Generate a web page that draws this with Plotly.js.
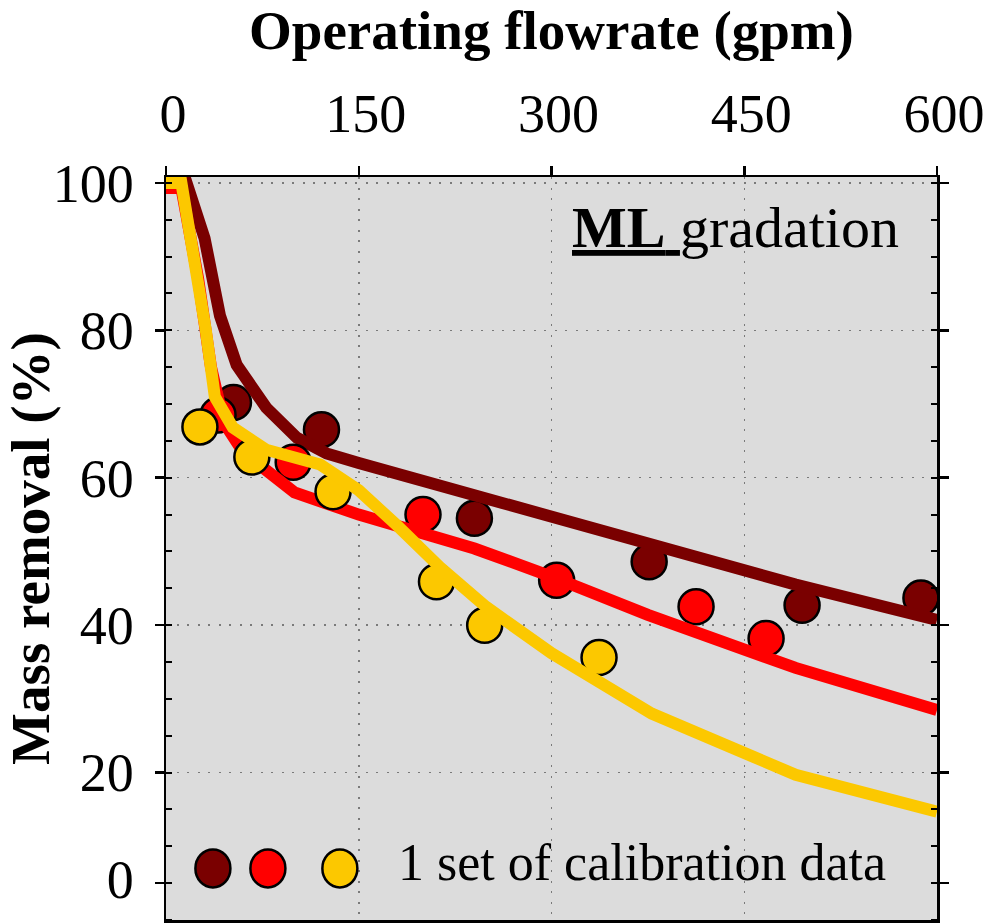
<!DOCTYPE html>
<html>
<head>
<meta charset="utf-8">
<script src="https://cdn.plot.ly/plotly-3.0.1.min.js"></script>
<style>
  html, body { margin: 0; padding: 0; background: #ffffff; }
  #chart { width: 989px; height: 923px; }
</style>
</head>
<body>
<div id="chart"></div>
<script>
// ---- Data ----
// Model curves
const darkLineX = [0, 16, 30, 42, 55, 78, 102, 125, 150, 380, 490, 600];
const darkLineY = [100, 100, 92.5, 82, 75.3, 69.5, 65.4, 63.3, 62, 51, 45.5, 40.7];

const redLineX = [0, 12, 25, 35, 45, 60, 100, 150, 240, 300, 375, 490, 600];
const redLineY = [99.3, 99.3, 87, 75, 67.5, 63.5, 58, 55, 50.4, 46.6, 41.4, 34.2, 28.5];

const yelLineX = [0, 12, 31, 38, 52, 78, 120, 150, 180, 213, 249, 300, 378, 490, 600];
const yelLineY = [100, 100, 80, 71, 66.8, 63.8, 61.8, 58.3, 53.5, 47.9, 42.5, 36.2, 28, 19.7, 14.7];

// Calibration data points
const darkPtsX = [52.5, 121, 240, 376, 495, 587.5];
const darkPtsY = [70.2, 66.5, 54.5, 48.6, 42.7, 43.7];

const redPtsX = [40.5, 99, 200, 304, 412.5, 467];
const redPtsY = [68.5, 62.1, 55, 46.1, 42.5, 38.2];

const yelPtsX = [26.4, 66.8, 130, 210.5, 248, 337];
const yelPtsY = [66.9, 62.8, 58.1, 45.9, 40, 35.6];

// Axis ticks
const xTickVals = [0, 150, 300, 450, 600];
const yTickVals = [20, 40, 60, 80, 100];
const yZeroTickVal = [5];
const yZeroTickText = ['0'];

// Texts
const xTitle = '<b>Operating flowrate (gpm)</b>';
const yTitle = '<b>Mass removal (%)</b>';
const gradationText = '<u><b>ML</b> </u>gradation';
const calibText = '1 set of calibration data';

// ---- Styles ----
const DARK = '#7a0000';
const RED = '#ff0000';
const YEL = '#fcc800';
const FONT = 'Liberation Serif';
const LW = 12;
const MS = 35;

function pts(x, y, color) {
  return {
    x: x, y: y, type: 'scatter', mode: 'markers', showlegend: false,
    marker: { size: MS, color: color, line: { color: '#000', width: 2.5 } },
    hoverinfo: 'x+y'
  };
}
function line(x, y, color) {
  return {
    x: x, y: y, type: 'scatter', mode: 'lines', showlegend: false,
    line: { color: color, width: LW, shape: 'linear' },
    hoverinfo: 'x+y'
  };
}

const traces = [
  pts(darkPtsX, darkPtsY, DARK),
  line(darkLineX, darkLineY, DARK),
  pts(redPtsX, redPtsY, RED),
  line(redLineX, redLineY, RED),
  pts(yelPtsX, yelPtsY, YEL),
  line(yelLineX, yelLineY, YEL),
  // invisible trace to activate the second y axis (carries the "0" label)
  { x: [0], y: [5], yaxis: 'y2', type: 'scatter', mode: 'markers', marker: { opacity: 0 }, showlegend: false, hoverinfo: 'skip' }
];

// legend glyph positions (layout decoration)
const legendAnchorsX = [36.5, 79.3, 135.3];
const legendAnchorY = 7.0;
const legendColors = [DARK, RED, YEL];

const shapes = legendColors.map((c, i) => ({
  type: 'circle', xref: 'x', yref: 'y', layer: 'above',
  xsizemode: 'pixel', ysizemode: 'pixel',
  xanchor: legendAnchorsX[i], yanchor: legendAnchorY,
  x0: -17.5, x1: 17.5, y0: -19, y1: 19,
  fillcolor: c, line: { color: '#000', width: 2.5 }
}));

function axisCommon() {
  return {
    showline: true, linecolor: '#000', linewidth: 2.5, mirror: 'ticks',
    ticks: 'outside', ticklen: 9, tickwidth: 2.5, tickcolor: '#000',
    showgrid: true, gridcolor: '#7a7a7a', gridwidth: 1.5, griddash: '2px,8.5px',
    zeroline: false, tickfont: { family: FONT, size: 54, color: '#000' }
  };
}

const layout = {
  width: 989, height: 923,
  margin: { l: 166, r: 52, t: 177, b: 3 },
  paper_bgcolor: '#ffffff',
  plot_bgcolor: '#dcdcdc',
  font: { family: FONT, color: '#000', size: 54 },
  showlegend: false,
  xaxis: Object.assign(axisCommon(), {
    side: 'top', range: [0, 600], tickmode: 'array', tickvals: xTickVals,
    ticklabelstandoff: 12, ticklabelshift: 7,
    title: { text: xTitle, font: { family: FONT, size: 55, color: '#000' } }
  }),
  yaxis: Object.assign(axisCommon(), {
    range: [0, 100.8], tickmode: 'array', tickvals: yTickVals,
    ticklabelstandoff: 10,
    minor: { tick0: 0, dtick: 5, ticks: 'inside', ticklen: 6, tickwidth: 2, tickcolor: '#000', showgrid: false },
    title: { text: yTitle, font: { family: FONT, size: 55, color: '#000' } }
  }),
  yaxis2: {
    overlaying: 'y', side: 'left', range: [0, 100.8],
    tickmode: 'array', tickvals: yZeroTickVal, ticktext: yZeroTickText,
    ticks: 'outside', ticklen: 9, tickwidth: 2.5, tickcolor: '#000',
    showline: true, linecolor: '#000', linewidth: 2.5, mirror: 'ticks',
    showgrid: false, zeroline: false, ticklabelstandoff: 10, ticklabelshift: -4,
    tickfont: { family: FONT, size: 54, color: '#000' }
  },
  shapes: shapes,
  annotations: [
    { xref: 'x', yref: 'y', x: 572, y: 94, xanchor: 'right', yanchor: 'middle',
      text: gradationText, showarrow: false, font: { family: FONT, size: 58, color: '#000' } },
    { xref: 'x', yref: 'y', x: 179, y: 7.8, xanchor: 'left', yanchor: 'middle',
      text: calibText, showarrow: false, font: { family: FONT, size: 52, color: '#000' } }
  ]
};

Plotly.newPlot('chart', traces, layout, { displayModeBar: false, staticPlot: true });
</script>
</body>
</html>
